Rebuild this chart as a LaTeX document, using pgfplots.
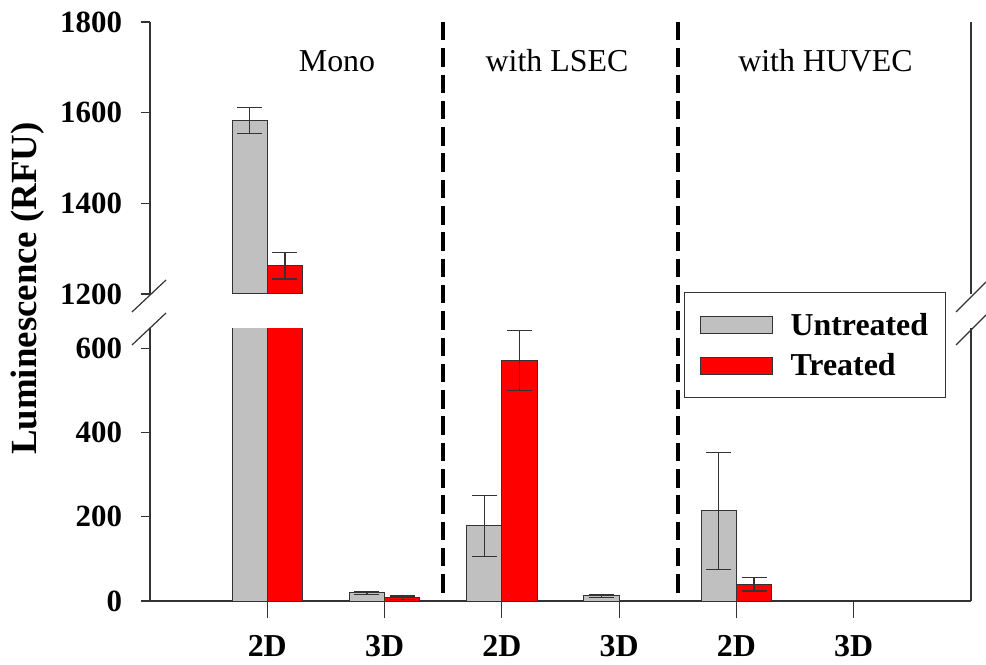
\documentclass[border=0pt]{standalone}
\usepackage{fontspec}
\setmainfont{Liberation Serif}
\usepackage{pgfplots}
\usepackage{pgfplotstable}
\pgfplotsset{compat=1.18}

\definecolor{barGrey}{HTML}{C0C0C0}
\definecolor{barRed}{HTML}{FF0000}
\definecolor{edge}{HTML}{333333}

% luminescence (RFU), mean and error, per culture condition
% x: 0 Mono 2D, 1 Mono 3D, 2 LSEC 2D, 3 LSEC 3D, 4 HUVEC 2D, 5 HUVEC 3D
\pgfplotstableread{
x  val   err
0  1583  29
1  19    4
2  178   72
3  12    4
4  214   139
}\untreated
\pgfplotstableread{
x  val   err
0  1262  29
1  8     4
2  571   71
4  40    16
}\treated

\pgfplotsset{
  lumi/.style={
    scale only axis, width=821bp, xmin=-1, xmax=6,
    anchor=south west, clip mode=individual,
    axis y line*=left, tick align=outside, major tick length=9bp,
    tick style={edge, line width=1.1bp},
    axis line style={edge, line width=1.2bp},
    /pgf/number format/assume math mode=true,
    /pgf/number format/1000 sep={},
    yticklabel style={font=\bfseries\fontsize{31}{36}\selectfont, xshift=-15.5bp},
    ybar, bar width=0.3,
    error bars/y dir=both, error bars/y explicit,
    error bars/error bar style={edge, line width=1.3bp},
    error bars/error mark options={rotate=90, mark size=12.5bp, line width=1.3bp, edge},
  },
  swatch/.style={legend image code/.code={\draw[##1] (0bp,-8.5bp) rectangle (72bp,8.5bp);}},
  untreated bars/.style={fill=barGrey, draw=edge, line width=1bp, bar shift=-0.15, swatch},
  treated bars/.style={fill=barRed, draw=edge, line width=1bp, bar shift=0.15, swatch},
}

\begin{document}
\begin{tikzpicture}
\useasboundingbox (0,0) rectangle (986bp,665bp);

% lower part of the broken y axis: 0 .. 647
\begin{axis}[lumi, name=lower, at={(150bp,64bp)}, height=272.7bp,
  ymin=0, ymax=647, ytick={0,200,400,600},
  axis x line*=bottom,
  xtick={0,...,5}, xticklabels={2D,3D,2D,3D,2D,3D},
  xtick style={/pgfplots/major tick length=17bp},
  xticklabel style={font=\bfseries\fontsize{32}{36}\selectfont, yshift=-22bp},
  legend cell align=left,
  legend style={at={(rel axis cs:0.6504,1.133)}, anchor=north west,
    draw=edge, line width=1.2bp, fill=white,
    inner xsep=15bp, inner ysep=12bp, row sep=0bp,
    /tikz/column sep=16bp,
    font=\bfseries\fontsize{32}{36}\selectfont,
    nodes={inner xsep=2bp, inner ysep=8.5bp}},
]
\addplot[untreated bars] table[x=x, y=val, y error=err] {\untreated};
\addlegendentry{Untreated}
\addplot[treated bars] table[x=x, y=val, y error=err] {\treated};
\addlegendentry{Treated}
\draw[edge, line width=1.2bp] (rel axis cs:1,0) -- (rel axis cs:1,1);
\coordinate (d1b) at (axis cs:1.5,9);
\coordinate (d2b) at (axis cs:3.5,9);
\end{axis}

% upper part of the broken y axis: 1200 .. 1800 (only Mono 2D reaches it)
\begin{axis}[lumi, name=upper, at={(150bp,371bp)}, height=272bp,
  ymin=1200, ymax=1800, ytick={1200,1400,1600,1800},
  axis x line=none, xtick=\empty,
]
\addplot[untreated bars, forget plot, skip coords between index={1}{10}]
  table[x=x, y=val, y error=err] {\untreated};
\addplot[treated bars, forget plot, skip coords between index={1}{10}]
  table[x=x, y=val, y error=err] {\treated};
\draw[edge, line width=1.2bp] (rel axis cs:1,0) -- (rel axis cs:1,1);
\coordinate (d1t) at (axis cs:1.5,1800);
\coordinate (d2t) at (axis cs:3.5,1800);
\end{axis}

% group separators
\draw[black, line width=3.5bp, dash pattern=on 18.5bp off 7.8bp] (d1t) -- (d1b);
\draw[black, line width=3.5bp, dash pattern=on 18.5bp off 7.8bp] (d2t) -- (d2b);

% axis break marks
\draw[edge, line width=1.2bp] (132bp,353bp) -- (166bp,385bp);
\draw[edge, line width=1.2bp] (132bp,320bp) -- (166bp,352bp);
\draw[edge, line width=1.2bp] (956bp,353bp) -- (986bp,383bp);
\draw[edge, line width=1.2bp] (956bp,320bp) -- (986bp,350bp);

% group titles
\node[anchor=base, font=\fontsize{32}{36}\selectfont] at (337bp,593bp) {Mono};
\node[anchor=base, font=\fontsize{32}{36}\selectfont] at (557bp,593bp) {with LSEC};
\node[anchor=base, font=\fontsize{32}{36}\selectfont] at (825.5bp,593bp) {with HUVEC};

% y axis title
\node[rotate=90, font=\bfseries\fontsize{37}{40}\selectfont] at (27.5bp,376.5bp) {Luminescence (RFU)};
\end{tikzpicture}
\end{document}
